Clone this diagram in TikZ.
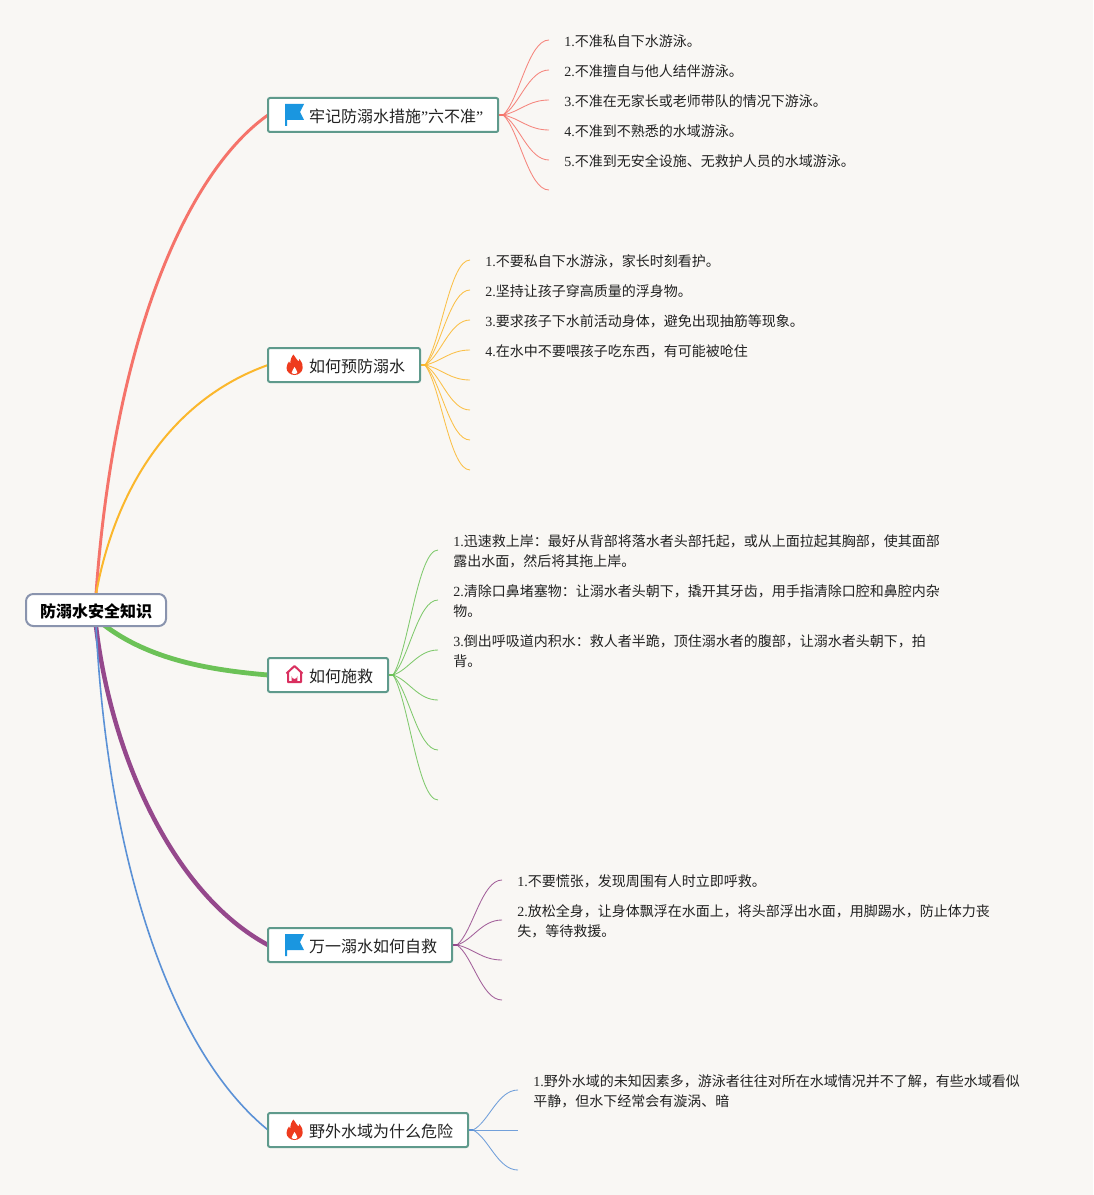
\documentclass[tikz,border=0pt]{standalone}
\usepackage{fontspec}
\setmainfont{Noto Sans CJK SC}
\newfontfamily\lat{Liberation Serif}
\usetikzlibrary{calc}
\pgfdeclarelayer{bg}
\pgfsetlayers{bg,main}
\definecolor{paper}{HTML}{F9F7F4}
\definecolor{cred}{HTML}{F5736A}
\definecolor{corange}{HTML}{FBB72C}
\definecolor{cgreen}{HTML}{6CC257}
\definecolor{cpurple}{HTML}{95488C}
\definecolor{cblue}{HTML}{5B91D6}
\definecolor{cborder}{HTML}{5F9A8C}
\definecolor{crootb}{HTML}{8A94AE}
\definecolor{cink}{HTML}{222222}
\definecolor{cflag}{HTML}{1A96E0}
\definecolor{cflame}{HTML}{EE3B1E}
\definecolor{chouse}{HTML}{D9305F}
\tikzset{
  topicbox/.style={draw=cborder,fill=white,line width=1.5pt,rounded corners=1.5pt,anchor=west,
    inner xsep=11.25pt,inner ysep=0pt,minimum height=25.5pt,outer sep=0pt,text=cink,
    text height=11.6pt,text depth=1pt,
    font=\fontsize{12}{15}\selectfont},
  rootbox/.style={draw=crootb,fill=white,line width=1.5pt,rounded corners=5.5pt,
    minimum width=105pt,minimum height=24pt,inner sep=0pt,outer sep=0pt,text=black,
    text height=11.6pt,text depth=1pt,
    font=\fontsize{12}{15}\selectfont\bfseries},
  leaftext/.style={anchor=north west,inner sep=0pt,align=left,text=cink,
    font=\fontsize{10.5}{15}\selectfont},
  twig/.style={line width=0.65pt,opacity=0.85},
  stub/.style={line width=1.5pt},
}
\newcommand\num[1]{{\lat #1}}
\newcommand\ls{\rule{0pt}{10.5pt}}
\newcommand\tgap{\hspace*{19.5pt}}
% curved twig from hub to end
\newcommand\branch[3]{\draw[twig,#3] let \p1=(#1),\p2=(#2) in (#1) ..
  controls ({\x1+0.35*(\x2-\x1)},{\y1+0.2*(\y2-\y1)}) and ({\x1+0.55*(\x2-\x1)},{\y2}) .. (#2);}
\newcommand\flagicon[1]{\fill[shift={(#1)},cflag]
  (0,0) -- (19,0) -- (15,8) -- (19,16) -- (2,16) -- (2,22) -- (0,22) -- cycle;}
\newcommand\flameicon[1]{\begin{scope}[shift={(#1)}]
  \fill[cflame]
    (-1,-10.5) .. controls (0,-7) and (3,-6) .. (4,-3.5) .. controls (4.5,-4) and (5,-5) .. (5,-6)
    .. controls (7.5,-3.5) and (8.5,0) .. (8.2,3) .. controls (8,7) and (4,10) .. (0,10)
    .. controls (-4,10) and (-8,7) .. (-8,3) .. controls (-8,0) and (-6.5,-2) .. (-5.5,-3.5)
    .. controls (-5.2,-2.5) and (-5,-1.5) .. (-4,-1) .. controls (-4.5,-5) and (-3,-8.5) .. (-1,-10.5) -- cycle;
  \fill[white] (0,2) .. controls (0.5,4) and (3,5) .. (2.8,7.5) .. controls (2.5,9.5) and (-2.5,9.5) .. (-2.8,7.5)
    .. controls (-3,5.5) and (-0.5,4.5) .. (0,2) -- cycle;
\end{scope}}
\newcommand\houseicon[1]{\begin{scope}[shift={(#1)}]
  \draw[chouse,line width=1.5pt,line join=round]
    (-8,-1.5) -- (0,-9) -- (8,-1.5) (-6.5,-2.5) -- (-6.5,7) -- (6.5,7) -- (6.5,-2.5);
  \fill[chouse] (-2.8,7) -- (-2.8,1.2) arc[start angle=180,end angle=0,radius=2.8] -- (2.8,7) -- cycle;
\end{scope}}
\begin{document}
\begin{tikzpicture}[x=0.75pt,y=-0.75pt]
\useasboundingbox (0,0) rectangle (1093,1195);

% root and topics
\node[rootbox] (root) at (96,610) {防溺水安全知识};
\node[topicbox] (t1) at (268,115) {\tgap 牢记防溺水措施{\lat ”}六不准{\lat ”}};
\node[topicbox] (t2) at (268,365) {\tgap 如何预防溺水};
\node[topicbox] (t3) at (268,675) {\tgap 如何施救};
\node[topicbox] (t4) at (268,945) {\tgap 万一溺水如何自救};
\node[topicbox] (t5) at (268,1130) {\tgap 野外水域为什么危险};

\flagicon{285,104}
\flameicon{294.5,365}
\houseicon{294.5,675}
\flagicon{285,934}
\flameicon{294.5,1130}

% leaf texts
\node[leaftext] (l11) at (564,32.3) {\ls\num{1.}不准私自下水游泳。};
\node[leaftext] (l12) at (564,62.3) {\ls\num{2.}不准擅自与他人结伴游泳。};
\node[leaftext] (l13) at (564,92.3) {\ls\num{3.}不准在无家长或老师带队的情况下游泳。};
\node[leaftext] (l14) at (564,122.3) {\ls\num{4.}不准到不熟悉的水域游泳。};
\node[leaftext] (l15) at (564,152.3) {\ls\num{5.}不准到无安全设施、无救护人员的水域游泳。};

\node[leaftext] (l21) at (485,252.3) {\ls\num{1.}不要私自下水游泳，家长时刻看护。};
\node[leaftext] (l22) at (485,282.3) {\ls\num{2.}坚持让孩子穿高质量的浮身物。};
\node[leaftext] (l23) at (485,312.3) {\ls\num{3.}要求孩子下水前活动身体，避免出现抽筋等现象。};
\node[leaftext] (l24) at (485,342.3) {\ls\num{4.}在水中不要喂孩子吃东西，有可能被呛住};

\node[leaftext] (l31) at (453,532.3) {\ls\num{1.}迅速救上岸：最好从背部将落水者头部托起，或从上面拉起其胸部，使其面部\\露出水面，然后将其拖上岸。};
\node[leaftext] (l32) at (453,582.3) {\ls\num{2.}清除口鼻堵塞物：让溺水者头朝下，撬开其牙齿，用手指清除口腔和鼻腔内杂\\物。};
\node[leaftext] (l33) at (453,632.3) {\ls\num{3.}倒出呼吸道内积水：救人者半跪，顶住溺水者的腹部，让溺水者头朝下，拍\\背。};

\node[leaftext] (l41) at (517,872.3) {\ls\num{1.}不要慌张，发现周围有人时立即呼救。};
\node[leaftext] (l42) at (517,902.3) {\ls\num{2.}放松全身，让身体飘浮在水面上，将头部浮出水面，用脚踢水，防止体力丧\\失，等待救援。};

\node[leaftext] (l51) at (533,1072.3) {\ls\num{1.}野外水域的未知因素多，游泳者往往对所在水域情况并不了解，有些水域看似\\平静，但水下经常会有漩涡、暗};

% hubs and twig ends
\coordinate (h1) at ($(t1.east)+(5,0)$);
\coordinate (h2) at ($(t2.east)+(5,0)$);
\coordinate (h3) at ($(t3.east)+(5,0)$);
\coordinate (h4) at ($(t4.east)+(5,0)$);
\coordinate (h5) at ($(t5.east)+(5,0)$);

\begin{pgfonlayer}{bg}
\fill[paper] (0,0) rectangle (1093,1195);

\draw[cred,line width=2.2pt] (root.north) .. controls (115,330) and (190,170) .. (t1.west);
\draw[corange,line width=1.5pt] (root.north) .. controls (115,490) and (170,400) .. (t2.west);
\draw[cgreen,line width=3.6pt] ($(root.south)+(8,-1)$) .. controls (150,660) and (210,670) .. (t3.west);
\draw[cpurple,line width=3.3pt] (root.south) .. controls (112,760) and (175,895) .. (t4.west);
\draw[cblue,line width=1.2pt] (root.south) .. controls (108,860) and (170,1050) .. (t5.west);

\draw[stub,cred] (t1.east) -- (h1);
\draw[stub,corange] (t2.east) -- (h2);
\draw[stub,cgreen] (t3.east) -- (h3);
\draw[stub,cpurple] (t4.east) -- (h4);
\draw[stub,cblue] (t5.east) -- (h5);

\foreach \y [count=\i] in {40,70,100,130,160,190} {
  \coordinate (e1\i) at (549,\y);
  \branch{h1}{e1\i}{cred}
}
\foreach \y [count=\i] in {260,290,320,350,380,410,440,470} {
  \coordinate (e2\i) at (470,\y);
  \branch{h2}{e2\i}{corange}
}
\foreach \y [count=\i] in {550,600,650,700,750,800} {
  \coordinate (e3\i) at (438,\y);
  \branch{h3}{e3\i}{cgreen}
}
\foreach \y [count=\i] in {880,920,960,1000} {
  \coordinate (e4\i) at (502,\y);
  \branch{h4}{e4\i}{cpurple}
}
\foreach \y [count=\i] in {1090,1130,1170} {
  \coordinate (e5\i) at (518,\y);
  \branch{h5}{e5\i}{cblue}
}
\end{pgfonlayer}
\end{tikzpicture}
\end{document}
